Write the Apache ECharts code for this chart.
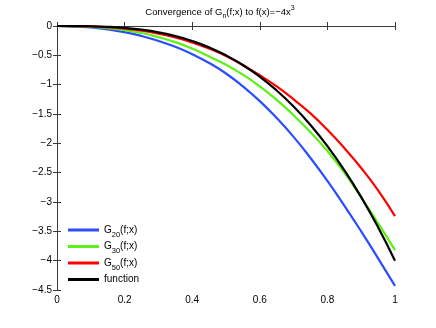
<!DOCTYPE html>
<html>
<head>
<meta charset="utf-8">
<script src="https://cdn.jsdelivr.net/npm/echarts@6/dist/echarts.min.js"></script>
<style>
  html, body { margin: 0; padding: 0; background: #fff; }
  #main { width: 436px; height: 328px; }
</style>
</head>
<body>
<div id="main"></div>
<script>
// x positions of the sampled points
var xs = [0, 0.05, 0.1, 0.15, 0.2, 0.25, 0.3, 0.35, 0.4, 0.45, 0.5,
          0.55, 0.6, 0.65, 0.7, 0.75, 0.8, 0.85, 0.9, 0.95, 1]

// values
var g20 = [0, -0.006, -0.025, -0.06, -0.105, -0.17, -0.255, -0.355, -0.48, -0.63, -0.81,
           -1.03, -1.28, -1.57, -1.89, -2.25, -2.64, -3.06, -3.5, -3.96, -4.43]
var g30 = [0, -0.003, -0.015, -0.037, -0.07, -0.12, -0.19, -0.275, -0.385, -0.52, -0.66,
           -0.83, -1.03, -1.26, -1.52, -1.81, -2.13, -2.5, -2.92, -3.36, -3.82]
var g50 = [0, -0.002, -0.008, -0.022, -0.045, -0.08, -0.13, -0.195, -0.28, -0.385, -0.51,
           -0.67, -0.84, -1.03, -1.25, -1.49, -1.77, -2.08, -2.42, -2.8, -3.24]
var fx = [0, -0.0005, -0.004, -0.0135, -0.032, -0.0625, -0.108, -0.1715, -0.256, -0.3645, -0.5,
          -0.6655, -0.864, -1.0985, -1.372, -1.6875, -2.048, -2.4565, -2.916, -3.4295, -4]

var xTicks = [0, 0.2, 0.4, 0.6, 0.8, 1]
var yTicks = [0, -0.5, -1, -1.5, -2, -2.5, -3, -3.5, -4, -4.5]

var names = ['G20', 'G30', 'G50', 'function']
var colors = ['#2a4dff', '#5cf016', '#ff0000', '#000000']

function pairs(ys) {
  return xs.map(function (x, i) { return [x, ys[i]] })
}
function minus(v) {
  return String(v).replace('-', '\u2212')
}

var myChart = echarts.init(document.getElementById('main'))

var font = 'Liberation Sans, Arial, sans-serif'
var axisCol = '#3a3a3a'
var labelStyle = { color: '#000', fontSize: 10, fontFamily: font }
var txt = { fontSize: 10, fontWeight: 'normal', color: '#000', fontFamily: font }
var sub = { fontSize: 7.5, fontWeight: 'normal', padding: [9, 0, 0, 0], color: '#000', fontFamily: font }
var ttl = { fontSize: 9.5, fontWeight: 'normal', color: '#000', fontFamily: font }
var tsub = { fontSize: 7, fontWeight: 'normal', padding: [8, 0, 0, 0], color: '#000', fontFamily: font }
var tsup = { fontSize: 7, fontWeight: 'normal', padding: [0, 0, 8, 0], color: '#000', fontFamily: font }

var option = {
  animation: false,
  title: {
    text: '{a|Convergence of G}{s|n}{a|(f;x) to f(x)=\u22124x}{p|3}',
    left: 215,
    textAlign: 'center',
    top: 0,
    textStyle: { fontWeight: 'normal', rich: { a: ttl, s: tsub, p: tsup } }
  },
  grid: { left: 57, right: 41, top: 26, bottom: 38 },
  legend: {
    orient: 'vertical',
    left: 63,
    top: 220,
    itemWidth: 31,
    itemHeight: 3,
    itemGap: 3,
    icon: 'rect',
    data: names,
    formatter: function (name) {
      if (name === 'function') return '{a|function}'
      return '{a|G}{s|' + name.slice(1) + '}{a|(f;x)}'
    },
    textStyle: { rich: { a: txt, s: sub } }
  },
  xAxis: [
    {
      type: 'value', min: 0, max: 1, interval: 0.2,
      axisLine: { lineStyle: { color: axisCol } },
      axisTick: { inside: true, length: 4, lineStyle: { color: axisCol } },
      axisLabel: Object.assign({ margin: 5, formatter: function (v) { return xTicks.indexOf(v) >= 0 ? minus(v) : '' } }, labelStyle),
      splitLine: { show: false }
    },
    {
      type: 'value', min: 0, max: 1, interval: 0.2, position: 'top',
      axisLine: { lineStyle: { color: axisCol } },
      axisTick: { inside: true, length: 4, lineStyle: { color: axisCol } },
      axisLabel: { show: false },
      splitLine: { show: false }
    }
  ],
  yAxis: [
    {
      type: 'value', min: -4.5, max: 0, interval: 0.5,
      axisLine: { show: true, lineStyle: { color: axisCol } },
      axisTick: { show: true, inside: true, length: 4, lineStyle: { color: axisCol } },
      axisLabel: Object.assign({ margin: 5, formatter: function (v) { return yTicks.indexOf(v) >= 0 ? minus(v) : '' } }, labelStyle),
      splitLine: { show: false }
    },
    {
      type: 'value', min: -4.5, max: 0, interval: 0.5, position: 'right',
      axisLine: { show: true, lineStyle: { color: axisCol } },
      axisTick: { show: true, inside: true, length: 4, lineStyle: { color: axisCol } },
      axisLabel: { show: false },
      splitLine: { show: false }
    }
  ],
  series: [g20, g30, g50, fx].map(function (ys, i) {
    return {
      name: names[i],
      type: 'line',
      data: pairs(ys),
      smooth: 0.5,
      showSymbol: false,
      color: colors[i],
      lineStyle: { width: 2.2, color: colors[i] },
      z: 2 + i
    }
  })
}

myChart.setOption(option)
</script>
</body>
</html>
